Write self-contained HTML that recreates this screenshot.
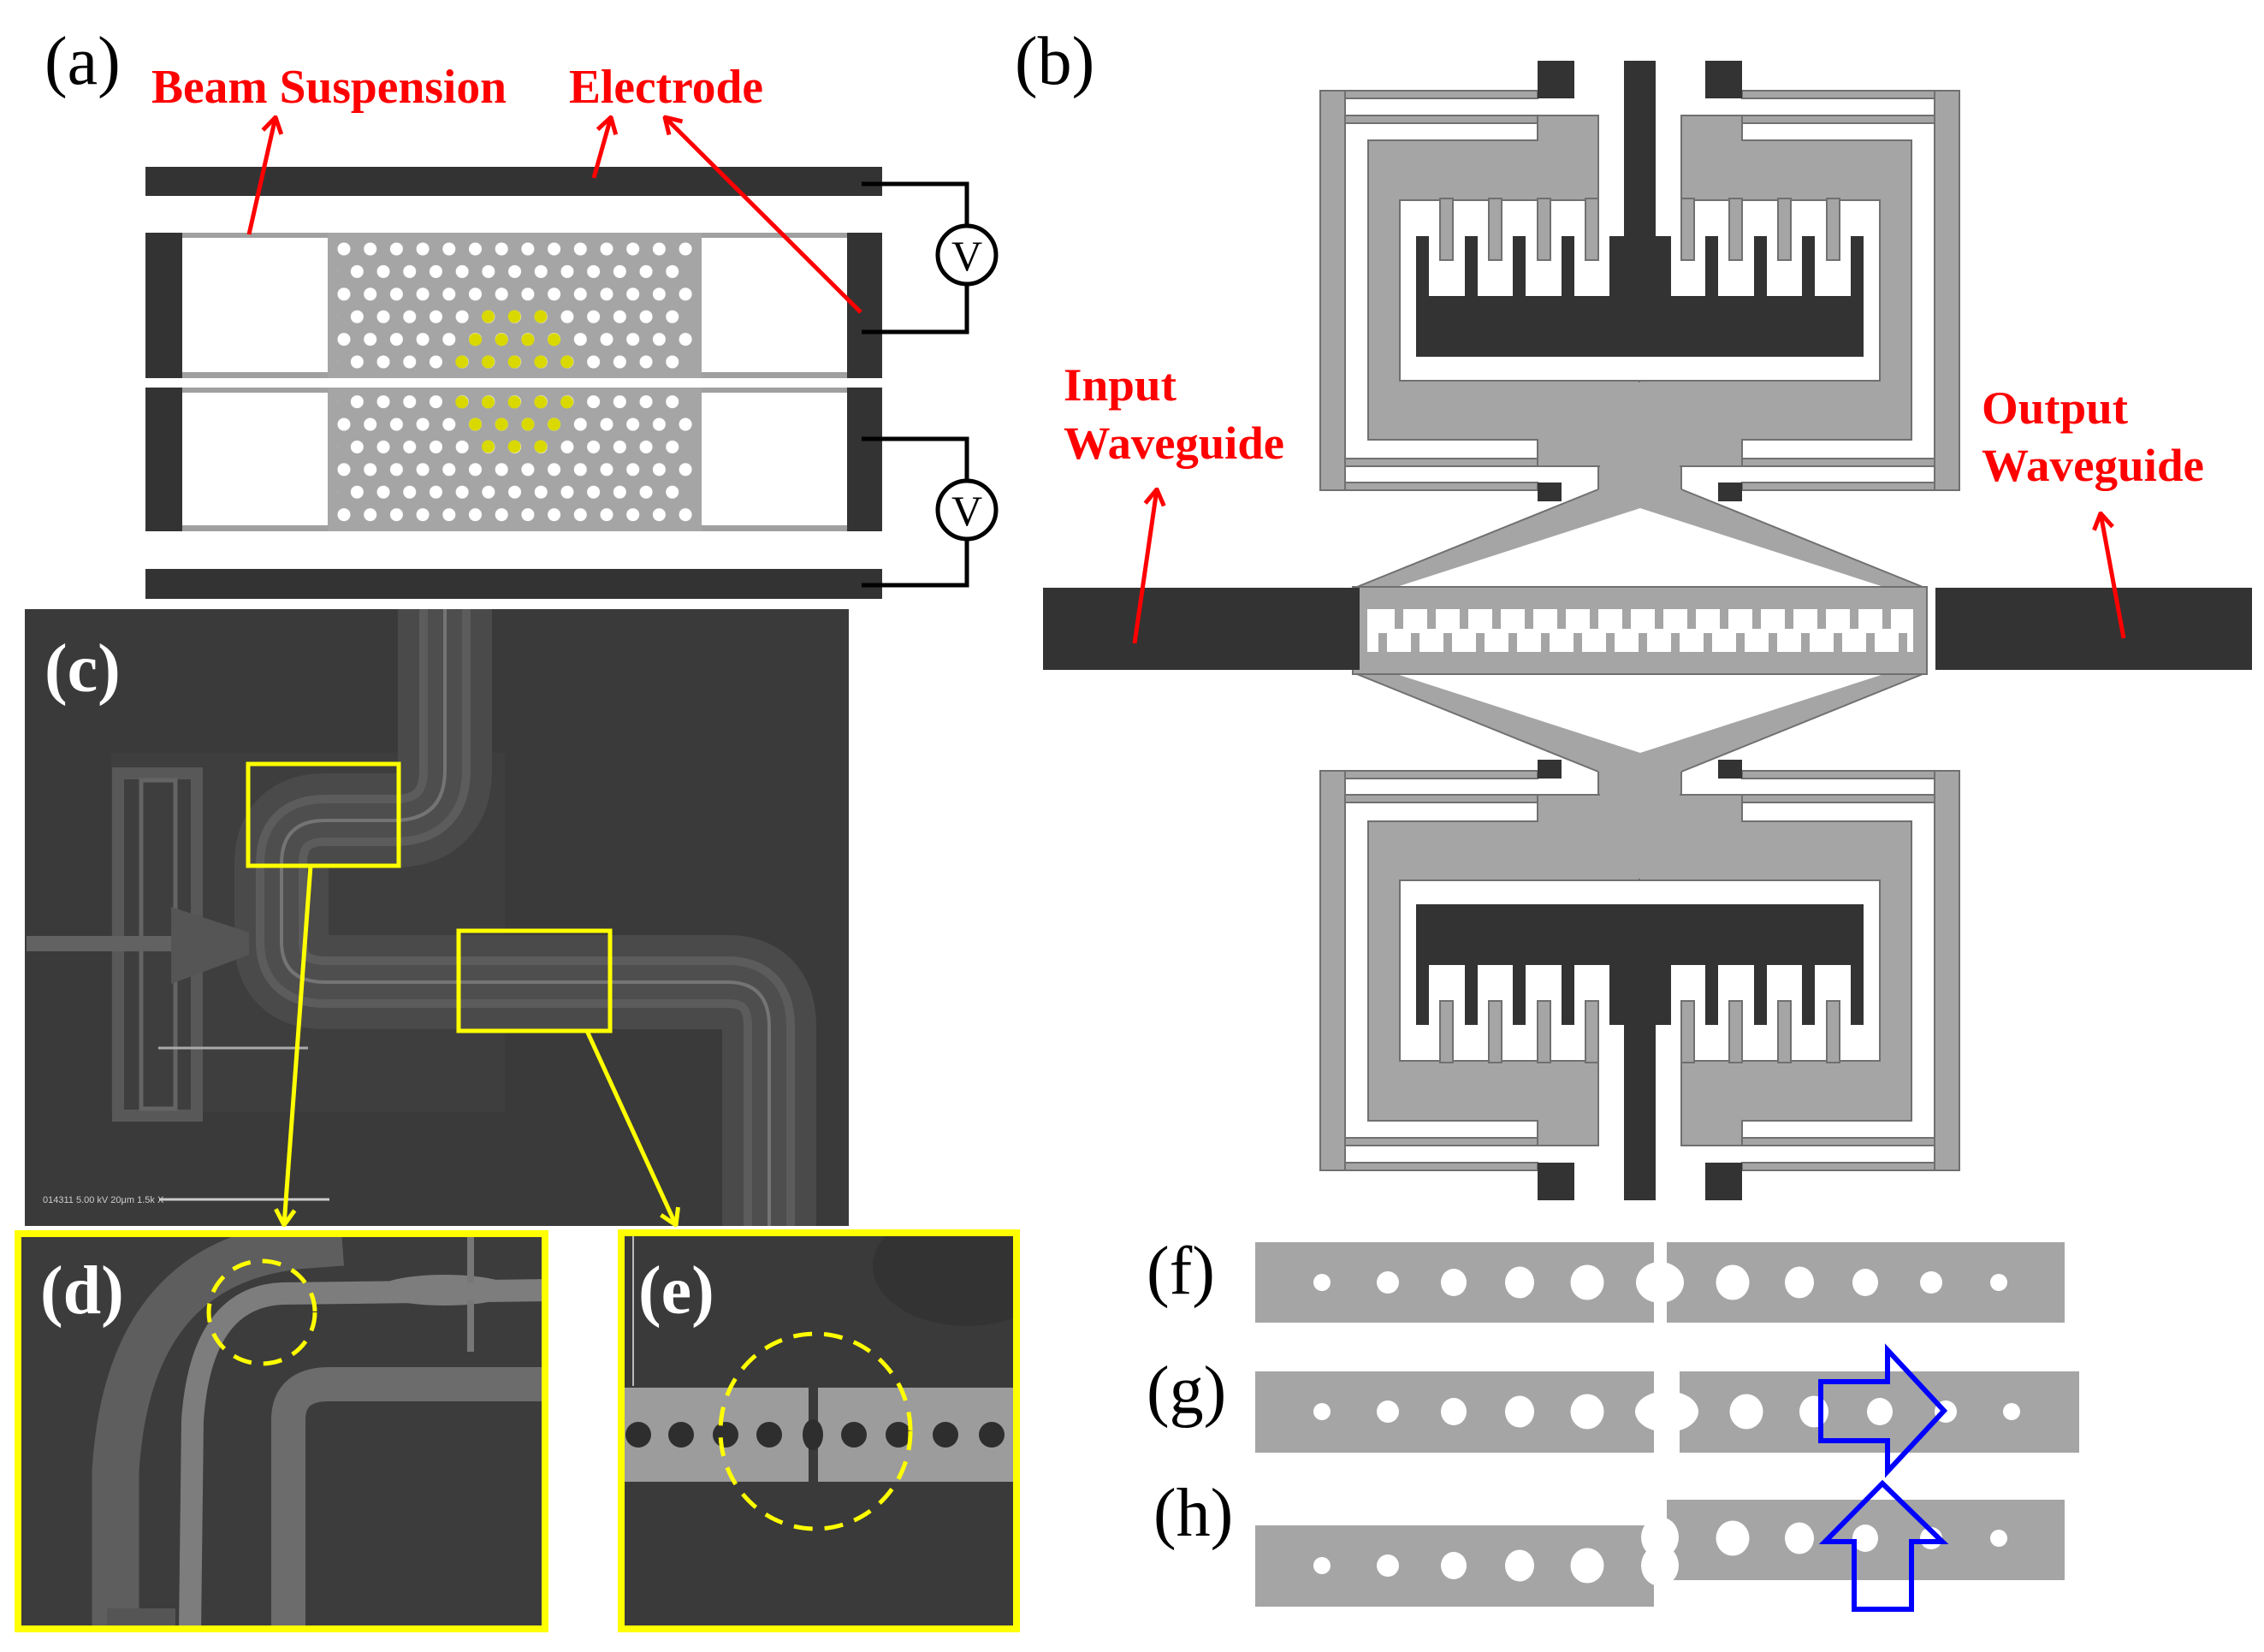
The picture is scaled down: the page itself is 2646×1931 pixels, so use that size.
<!DOCTYPE html>
<html><head><meta charset="utf-8"><style>html,body{margin:0;padding:0;background:#fff}svg{display:block}</style></head>
<body>
<svg width="2646" height="1931" viewBox="0 0 2646 1931" xmlns="http://www.w3.org/2000/svg">
<defs>
<marker id="ra" viewBox="-22 -14 24 28" refX="0" refY="0" markerWidth="24" markerHeight="28" markerUnits="userSpaceOnUse" orient="auto"><path d="M-18,-11 L0,0 L-18,11" fill="none" stroke="#ff0000" stroke-width="5"/></marker>
<marker id="ya" viewBox="-22 -14 24 28" refX="0" refY="0" markerWidth="24" markerHeight="28" markerUnits="userSpaceOnUse" orient="auto"><path d="M-18,-11 L0,0 L-18,11" fill="none" stroke="#ffff00" stroke-width="5"/></marker>
<pattern id="hex1" patternUnits="userSpaceOnUse" x="402" y="291" width="30.7" height="52.8">
<circle cx="0" cy="0" r="7.5" fill="#fff"/><circle cx="30.7" cy="0" r="7.5" fill="#fff"/><circle cx="0" cy="52.8" r="7.5" fill="#fff"/><circle cx="30.7" cy="52.8" r="7.5" fill="#fff"/><circle cx="15.35" cy="26.4" r="7.5" fill="#fff"/></pattern>
<pattern id="hex2" patternUnits="userSpaceOnUse" x="402" y="496" width="30.7" height="52.8">
<circle cx="0" cy="0" r="7.5" fill="#fff"/><circle cx="30.7" cy="0" r="7.5" fill="#fff"/><circle cx="0" cy="52.8" r="7.5" fill="#fff"/><circle cx="30.7" cy="52.8" r="7.5" fill="#fff"/><circle cx="15.35" cy="26.4" r="7.5" fill="#fff"/></pattern>
<clipPath id="clipC"><rect x="29" y="712" width="963" height="721"/></clipPath>
<clipPath id="clipD"><rect x="17" y="1438" width="624" height="470"/></clipPath>
<clipPath id="clipE"><rect x="722" y="1437" width="470" height="471"/></clipPath>
</defs>

<!-- ===== (a) ===== -->
<text x="52" y="98" font-family="Liberation Serif, serif" font-size="80">(a)</text>
<text x="177" y="120" font-family="Liberation Serif, serif" font-weight="bold" font-size="56" fill="#ff0000" textLength="415" lengthAdjust="spacingAndGlyphs">Beam Suspension</text>
<text x="665" y="120" font-family="Liberation Serif, serif" font-weight="bold" font-size="56" fill="#ff0000" textLength="227" lengthAdjust="spacingAndGlyphs">Electrode</text>

<rect x="170" y="195" width="861" height="34" fill="#333"/>
<rect x="170" y="665" width="861" height="35" fill="#333"/>
<rect x="213" y="272" width="777" height="6" fill="#a0a0a0"/>
<rect x="213" y="435" width="777" height="7" fill="#a0a0a0"/>
<rect x="383" y="272" width="437" height="170" fill="#a5a5a5"/>
<rect x="394" y="280" width="415" height="155" fill="url(#hex1)"/>
<rect x="170" y="272" width="43" height="170" fill="#333"/>
<rect x="990" y="272" width="41" height="170" fill="#333"/>
<g fill="#d9d900">
<circle cx="570.5" cy="370" r="7.5"/><circle cx="601.2" cy="370" r="7.5"/><circle cx="631.9" cy="370" r="7.5"/>
<circle cx="555.5" cy="397" r="7.5"/><circle cx="586.2" cy="397" r="7.5"/><circle cx="616.9" cy="397" r="7.5"/><circle cx="647.6" cy="397" r="7.5"/>
<circle cx="539.8" cy="423" r="7.5"/><circle cx="570.5" cy="423" r="7.5"/><circle cx="601.2" cy="423" r="7.5"/><circle cx="631.9" cy="423" r="7.5"/><circle cx="662.6" cy="423" r="7.5"/>
</g>
<rect x="213" y="453" width="777" height="6" fill="#a0a0a0"/>
<rect x="213" y="614" width="777" height="7" fill="#a0a0a0"/>
<rect x="383" y="453" width="437" height="168" fill="#a5a5a5"/>
<rect x="394" y="459" width="415" height="155" fill="url(#hex2)"/>
<g fill="#d9d900">
<circle cx="539.8" cy="470" r="7.5"/><circle cx="570.5" cy="470" r="7.5"/><circle cx="601.2" cy="470" r="7.5"/><circle cx="631.9" cy="470" r="7.5"/><circle cx="662.6" cy="470" r="7.5"/>
<circle cx="555.5" cy="496" r="7.5"/><circle cx="586.2" cy="496" r="7.5"/><circle cx="616.9" cy="496" r="7.5"/><circle cx="647.6" cy="496" r="7.5"/>
<circle cx="570.5" cy="522" r="7.5"/><circle cx="601.2" cy="522" r="7.5"/><circle cx="631.9" cy="522" r="7.5"/>
</g>
<rect x="170" y="453" width="43" height="168" fill="#333"/>
<rect x="990" y="453" width="41" height="168" fill="#333"/>
<g fill="none" stroke="#000" stroke-width="5">
<polyline points="1007,215 1130,215 1130,264"/>
<polyline points="1130,332 1130,388 1007,388"/>
<polyline points="1007,513 1130,513 1130,562"/>
<polyline points="1130,630 1130,684 1007,684"/>
<circle cx="1130" cy="298" r="34" fill="#fff"/>
<circle cx="1130" cy="596" r="34" fill="#fff"/>
</g>
<text x="1130" y="316" text-anchor="middle" font-family="Liberation Serif, serif" font-size="50">V</text>
<text x="1130" y="614" text-anchor="middle" font-family="Liberation Serif, serif" font-size="50">V</text>
<g stroke="#ff0000" stroke-width="5" fill="none" marker-end="url(#ra)">
<line x1="291" y1="274" x2="322" y2="137"/>
<line x1="694" y1="208" x2="714" y2="137"/>
<line x1="1006" y1="365" x2="777" y2="137"/>
</g>

<!-- ===== (b) ===== -->
<text x="1186" y="98" font-family="Liberation Serif, serif" font-size="80">(b)</text>
<g id="topB">
 <g id="halfL" fill="#a5a5a5" stroke="#707070" stroke-width="2">
  <rect x="1543" y="106" width="254" height="9"/>
  <rect x="1543" y="564" width="254" height="9"/>
  <rect x="1543" y="106" width="29" height="467"/>
  <rect x="1572" y="135" width="296" height="9"/>
  <rect x="1572" y="536" width="296" height="9"/>
  <polygon points="1599,164 1797,164 1797,135 1868,135 1868,234 1636,234 1636,445 1917,445 1917,592 1868,572 1868,545 1797,545 1797,514 1599,514"/>
  <rect x="1683" y="232" width="15" height="72"/>
  <rect x="1740" y="232" width="15" height="72"/>
  <rect x="1797" y="232" width="15" height="72"/>
  <rect x="1853" y="232" width="15" height="72"/>
  <rect x="1797" y="71" width="43" height="44" fill="#333" stroke="none"/>
  <rect x="1797" y="564" width="28" height="22" fill="#333" stroke="none"/>
  <rect x="1655" y="276" width="15" height="80" fill="#333" stroke="none"/>
  <rect x="1712" y="276" width="15" height="80" fill="#333" stroke="none"/>
  <rect x="1768" y="276" width="15" height="80" fill="#333" stroke="none"/>
  <rect x="1825" y="276" width="15" height="80" fill="#333" stroke="none"/>
 </g>
 <use href="#halfL" transform="translate(3833,0) scale(-1,1)"/>
 <rect x="1900" y="447" width="34" height="140" fill="#a5a5a5"/>
 <rect x="1898" y="71" width="37" height="210" fill="#333"/>
 <rect x="1881" y="276" width="72" height="75" fill="#333"/>
 <rect x="1655" y="346" width="523" height="71" fill="#333"/>
 <polygon points="1868,545 1965,545 1965,572 2252,688 1581,688 1868,572" fill="#a5a5a5" stroke="#707070" stroke-width="2"/>
 <polygon points="1917,594 2214,690 1620,690" fill="#fff"/>
 <rect x="1870" y="540" width="93" height="40" fill="#a5a5a5"/>
 <polygon points="1868,578 1917,594 1965,578 1965,572 1917,592 1868,572" fill="#a5a5a5"/>
</g>
<use href="#topB" transform="translate(0,1474) scale(1,-1)"/>
<rect x="1581" y="686" width="671" height="102" fill="#a5a5a5" stroke="#707070" stroke-width="2"/>
<rect x="1598" y="712" width="638" height="50" fill="#fff"/>
<g fill="#a5a5a5">
<rect x="1630" y="710" width="10" height="25"/><rect x="1668" y="710" width="10" height="25"/><rect x="1706" y="710" width="10" height="25"/><rect x="1744" y="710" width="10" height="25"/><rect x="1782" y="710" width="10" height="25"/><rect x="1820" y="710" width="10" height="25"/><rect x="1858" y="710" width="10" height="25"/><rect x="1896" y="710" width="10" height="25"/><rect x="1934" y="710" width="10" height="25"/><rect x="1972" y="710" width="10" height="25"/><rect x="2010" y="710" width="10" height="25"/><rect x="2048" y="710" width="10" height="25"/><rect x="2086" y="710" width="10" height="25"/><rect x="2124" y="710" width="10" height="25"/><rect x="2162" y="710" width="10" height="25"/><rect x="2200" y="710" width="10" height="25"/>
<rect x="1611" y="740" width="10" height="24"/><rect x="1649" y="740" width="10" height="24"/><rect x="1687" y="740" width="10" height="24"/><rect x="1725" y="740" width="10" height="24"/><rect x="1763" y="740" width="10" height="24"/><rect x="1801" y="740" width="10" height="24"/><rect x="1839" y="740" width="10" height="24"/><rect x="1877" y="740" width="10" height="24"/><rect x="1915" y="740" width="10" height="24"/><rect x="1953" y="740" width="10" height="24"/><rect x="1991" y="740" width="10" height="24"/><rect x="2029" y="740" width="10" height="24"/><rect x="2067" y="740" width="10" height="24"/><rect x="2105" y="740" width="10" height="24"/><rect x="2143" y="740" width="10" height="24"/><rect x="2181" y="740" width="10" height="24"/><rect x="2219" y="740" width="10" height="24"/>
</g>
<rect x="1219" y="687" width="370" height="96" fill="#333"/>
<rect x="2262" y="687" width="370" height="96" fill="#333"/>
<text x="1243" y="468" font-family="Liberation Serif, serif" font-weight="bold" font-size="54" fill="#ff0000" textLength="132" lengthAdjust="spacingAndGlyphs">Input</text>
<text x="1243" y="536" font-family="Liberation Serif, serif" font-weight="bold" font-size="54" fill="#ff0000" textLength="258" lengthAdjust="spacingAndGlyphs">Waveguide</text>
<text x="2316" y="495" font-family="Liberation Serif, serif" font-weight="bold" font-size="54" fill="#ff0000" textLength="171" lengthAdjust="spacingAndGlyphs">Output</text>
<text x="2316" y="562" font-family="Liberation Serif, serif" font-weight="bold" font-size="54" fill="#ff0000" textLength="260" lengthAdjust="spacingAndGlyphs">Waveguide</text>
<g stroke="#ff0000" stroke-width="5" fill="none" marker-end="url(#ra)">
<line x1="1326" y1="752" x2="1352" y2="572"/>
<line x1="2482" y1="746" x2="2455" y2="600"/>
</g>

<!-- ===== (c) SEM ===== -->
<g clip-path="url(#clipC)">
<rect x="29" y="712" width="963" height="721" fill="#3a3a3a"/>
<rect x="130" y="880" width="460" height="420" fill="#3e3e3e"/>
<g fill="none" stroke-linecap="butt" stroke-linejoin="round">
<path d="M520,712 L520,900 Q520,959 460,959 L380,959 Q329,959 329,1010 L329,1100 Q329,1148 380,1148 L850,1148 Q899,1148 899,1200 L899,1433" stroke="#4a4a4a" stroke-width="110"/>
<path d="M520,712 L520,900 Q520,959 460,959 L380,959 Q329,959 329,1010 L329,1100 Q329,1148 380,1148 L850,1148 Q899,1148 899,1200 L899,1433" stroke="#5c5c5c" stroke-width="60"/>
<path d="M520,712 L520,900 Q520,959 460,959 L380,959 Q329,959 329,1010 L329,1100 Q329,1148 380,1148 L850,1148 Q899,1148 899,1200 L899,1433" stroke="#4e4e4e" stroke-width="40"/>
<path d="M520,712 L520,900 Q520,959 460,959 L380,959 Q329,959 329,1010 L329,1100 Q329,1148 380,1148 L850,1148 Q899,1148 899,1200 L899,1433" stroke="#747474" stroke-width="4"/>
</g>
<rect x="138" y="904" width="92" height="400" fill="none" stroke="#585858" stroke-width="14"/>
<rect x="165" y="912" width="40" height="384" fill="none" stroke="#646464" stroke-width="5"/>
<rect x="31" y="1094" width="260" height="18" fill="#626262"/>
<polygon points="200,1060 291,1090 291,1116 200,1150" fill="#555"/>
<line x1="185" y1="1225" x2="360" y2="1225" stroke="#aaa" stroke-width="3"/>
<text x="50" y="1406" font-family="Liberation Sans, sans-serif" font-size="11" fill="#ccc">014311   5.00 kV   20μm          1.5k X</text>
<line x1="186" y1="1402" x2="385" y2="1402" stroke="#ccc" stroke-width="3"/>
</g>
<text x="52" y="808" font-family="Liberation Serif, serif" font-weight="bold" font-size="80" fill="#fff">(c)</text>
<rect x="290" y="893" width="176" height="119" fill="none" stroke="#ffff00" stroke-width="5"/>
<rect x="536" y="1088" width="177" height="117" fill="none" stroke="#ffff00" stroke-width="5"/>
<g stroke="#ffff00" stroke-width="5" fill="none" marker-end="url(#ya)">
<line x1="363" y1="1012" x2="332" y2="1432"/>
<line x1="686" y1="1205" x2="790" y2="1432"/>
</g>

<!-- ===== (d) ===== -->
<g clip-path="url(#clipD)">
<rect x="17" y="1438" width="624" height="470" fill="#3c3c3c"/>
<g fill="none">
<path d="M135,1908 L135,1720 Q150,1470 360,1455 L400,1452" stroke="#5e5e5e" stroke-width="55"/>
<path d="M222,1908 L225,1660 Q235,1516 330,1512 L641,1508" stroke="#7d7d7d" stroke-width="26"/>
<path d="M337,1908 L337,1660 Q337,1618 385,1618 L641,1618" stroke="#6c6c6c" stroke-width="40"/>
</g>
<ellipse cx="520" cy="1508" rx="80" ry="18" fill="#7d7d7d"/>
<rect x="546" y="1440" width="8" height="60" fill="#777"/>
<rect x="546" y="1520" width="8" height="60" fill="#777"/>
<rect x="125" y="1880" width="80" height="25" fill="#555"/>
</g>
<ellipse cx="306" cy="1534" rx="62" ry="60" fill="none" stroke="#ffff00" stroke-width="5" stroke-dasharray="22 14"/>
<text x="47" y="1535" font-family="Liberation Serif, serif" font-weight="bold" font-size="80" fill="#fff">(d)</text>
<rect x="21" y="1442" width="616" height="462" fill="none" stroke="#ffff00" stroke-width="8"/>

<!-- ===== (e) ===== -->
<g clip-path="url(#clipE)">
<rect x="722" y="1437" width="470" height="471" fill="#3a3a3a"/>
<ellipse cx="1130" cy="1480" rx="110" ry="70" fill="#333"/>
<rect x="723" y="1622" width="222" height="110" fill="#9c9c9c"/>
<rect x="956" y="1622" width="236" height="110" fill="#9c9c9c"/>
<g fill="#2e2e2e">
<circle cx="746" cy="1677" r="15"/><circle cx="796" cy="1677" r="15"/><circle cx="848" cy="1677" r="15"/><circle cx="899" cy="1677" r="15"/>
<circle cx="998" cy="1677" r="15"/><circle cx="1050" cy="1677" r="15"/><circle cx="1105" cy="1677" r="15"/><circle cx="1159" cy="1677" r="15"/>
<ellipse cx="950" cy="1677" rx="12" ry="18"/>
</g>
<line x1="740" y1="1445" x2="740" y2="1620" stroke="#bbb" stroke-width="2"/>
</g>
<ellipse cx="953" cy="1673" rx="111" ry="114" fill="none" stroke="#ffff00" stroke-width="5" stroke-dasharray="22 14"/>
<text x="746" y="1535" font-family="Liberation Serif, serif" font-weight="bold" font-size="80" fill="#fff">(e)</text>
<rect x="726" y="1441" width="462" height="463" fill="none" stroke="#ffff00" stroke-width="8"/>

<!-- ===== (f)(g)(h) ===== -->
<text x="1340" y="1512" font-family="Liberation Serif, serif" font-size="80">(f)</text>
<text x="1340" y="1652" font-family="Liberation Serif, serif" font-size="80">(g)</text>
<text x="1348" y="1795" font-family="Liberation Serif, serif" font-size="80">(h)</text>
<g fill="#a5a5a5">
<rect x="1467" y="1452" width="466" height="94"/><rect x="1948" y="1452" width="465" height="94"/>
<rect x="1467" y="1603" width="466" height="95"/><rect x="1963" y="1603" width="467" height="95"/>
<rect x="1467" y="1783" width="466" height="95"/><rect x="1948" y="1753" width="465" height="94"/>
</g>
<g fill="#fff">
<ellipse cx="1545" cy="1499" rx="10" ry="10"/><ellipse cx="1622" cy="1499" rx="13" ry="13"/><ellipse cx="1699" cy="1499" rx="15" ry="16"/><ellipse cx="1776" cy="1499" rx="17" ry="18.5"/><ellipse cx="1855" cy="1499" rx="19.5" ry="20.5"/><ellipse cx="1940" cy="1499" rx="28" ry="24"/><ellipse cx="2025" cy="1499" rx="19.5" ry="20.5"/><ellipse cx="2103" cy="1499" rx="17" ry="18.5"/><ellipse cx="2180" cy="1499" rx="15" ry="16"/><ellipse cx="2257" cy="1499" rx="13" ry="13"/><ellipse cx="2336" cy="1499" rx="10" ry="10"/>
<ellipse cx="1545" cy="1650" rx="10" ry="10"/><ellipse cx="1622" cy="1650" rx="13" ry="13"/><ellipse cx="1699" cy="1650" rx="15" ry="16"/><ellipse cx="1776" cy="1650" rx="17" ry="18.5"/><ellipse cx="1855" cy="1650" rx="19.5" ry="20.5"/><ellipse cx="1948" cy="1650" rx="37" ry="24"/><ellipse cx="2041" cy="1650" rx="19.5" ry="20.5"/><ellipse cx="2120" cy="1650" rx="17" ry="18.5"/><ellipse cx="2197" cy="1650" rx="15" ry="16"/><ellipse cx="2274" cy="1650" rx="13" ry="13"/><ellipse cx="2351" cy="1650" rx="10" ry="10"/>
<ellipse cx="1545" cy="1830" rx="10" ry="10"/><ellipse cx="1622" cy="1830" rx="13" ry="13"/><ellipse cx="1699" cy="1830" rx="15" ry="16"/><ellipse cx="1776" cy="1830" rx="17" ry="18.5"/><ellipse cx="1855" cy="1830" rx="19.5" ry="20.5"/><ellipse cx="1940" cy="1830" rx="22" ry="24"/>
<ellipse cx="1940" cy="1797" rx="22" ry="24"/><ellipse cx="2025" cy="1798" rx="19.5" ry="20.5"/><ellipse cx="2103" cy="1798" rx="17" ry="18.5"/><ellipse cx="2180" cy="1798" rx="15" ry="16"/><ellipse cx="2257" cy="1798" rx="13" ry="13"/><ellipse cx="2336" cy="1798" rx="10" ry="10"/>
</g>
<rect x="1933" y="1440" width="15" height="450" fill="#fff"/>
<polygon points="2128,1615 2206,1615 2206,1578 2272,1649 2206,1720 2206,1684 2128,1684" fill="none" stroke="#0000ff" stroke-width="6"/>
<polygon points="2167,1881 2234,1881 2234,1802 2270,1802 2200,1734 2133,1802 2167,1802" fill="none" stroke="#0000ff" stroke-width="6"/>
</svg>
</body></html>
